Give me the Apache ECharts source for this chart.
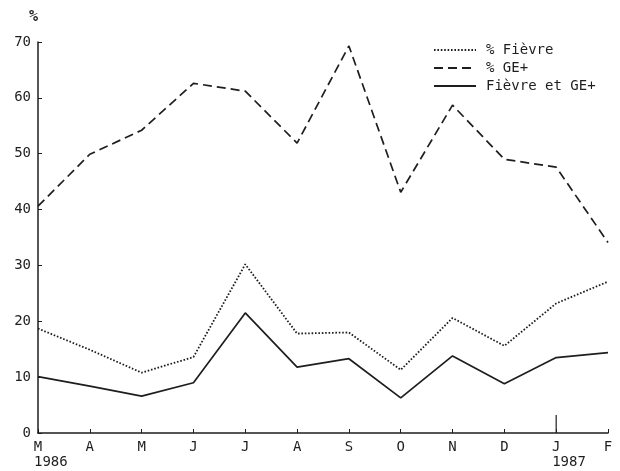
<!DOCTYPE html>
<html><head><meta charset="utf-8">
<script src="https://cdn.jsdelivr.net/npm/echarts@6/dist/echarts.min.js"></script>
<style>html,body{margin:0;padding:0;background:#fff}#c{width:620px;height:471px}</style>
</head><body><div id="c"></div>
<script>
var months = ['M','A','M','J','J','A','S','O','N','D','J','F'];
var years = [{index:0, label:'1986'}, {index:10, label:'1987'}];
var fievre = [18.7, 14.9, 10.8, 13.6, 30.2, 17.8, 18.0, 11.3, 20.6, 15.6, 23.2, 27.1];
var gePlus = [40.6, 49.9, 54.2, 62.6, 61.2, 51.9, 69.3, 43.1, 58.7, 49.0, 47.6, 34.1];
var fievreEtGe = [10.1, 8.4, 6.6, 9.0, 21.5, 11.8, 13.3, 6.3, 13.8, 8.8, 13.5, 14.4];
var yTicks = [0, 10, 20, 30, 40, 50, 60, 70];
var names = ['% Fièvre', '% GE+', 'Fièvre et GE+'];

var ink = '#1e1e1e';
var mono = '"DejaVu Sans Mono", "Liberation Mono", monospace';
var chart = echarts.init(document.getElementById('c'));
function mk(name, data, type, w) {
  return {name: name, type: 'line', data: data, symbol: 'none', showSymbol: false, silent: true,
    lineStyle: {color: ink, width: w, type: type}, itemStyle: {color: ink}, animation: false};
}
chart.setOption({
  animation: false,
  grid: {left: 38, right: 12, top: 42, bottom: 38, containLabel: false},
  legend: {
    orient: 'vertical', left: 433, top: 43, padding: 0, itemWidth: 42, itemHeight: 12, itemGap: 4,
    itemStyle: {opacity: 0},
    textStyle: {fontFamily: mono, fontSize: 14, color: ink, padding: [0, 0, 0, 5]},
    data: names
  },
  xAxis: {
    type: 'category', data: months, boundaryGap: false,
    axisLine: {lineStyle: {color: ink, width: 1.5}},
    axisTick: {inside: true, length: 4, lineStyle: {color: ink}},
    axisLabel: {fontFamily: mono, fontSize: 14, color: ink, margin: 7, interval: 0}
  },
  yAxis: {
    type: 'value', min: yTicks[0], max: yTicks[yTicks.length - 1], interval: 10,
    name: '%', nameLocation: 'end', nameGap: 17,
    nameTextStyle: {fontFamily: mono, fontSize: 15, fontWeight: 'bold', color: ink, align: 'right', padding: [0, 0, 0, 0]},
    axisLine: {show: true, lineStyle: {color: ink, width: 1.5}},
    axisTick: {show: true, inside: true, length: 4, lineStyle: {color: ink}},
    splitLine: {show: false},
    axisLabel: {fontFamily: mono, fontSize: 14, color: ink, margin: 7}
  },
  series: [
    mk(names[0], fievre, [1.6, 1.8], 1.8),
    mk(names[1], gePlus, [9, 5], 1.7),
    mk(names[2], fievreEtGe, 'solid', 1.7)
  ]
});
var g = [];
years.forEach(function (y) {
  var p = chart.convertToPixel({xAxisIndex: 0, yAxisIndex: 0}, [y.index, 0]);
  g.push({type: 'text', left: p[0] - 4, top: p[1] + 22,
    style: {text: y.label, font: '14px ' + mono, fill: ink}});
});
var pj = chart.convertToPixel({xAxisIndex: 0, yAxisIndex: 0}, [10, 0]);
g.push({type: 'line', shape: {x1: pj[0], y1: pj[1] - 18, x2: pj[0], y2: pj[1]},
  style: {stroke: ink, lineWidth: 1.2}});
chart.setOption({graphic: g});
</script></body></html>
